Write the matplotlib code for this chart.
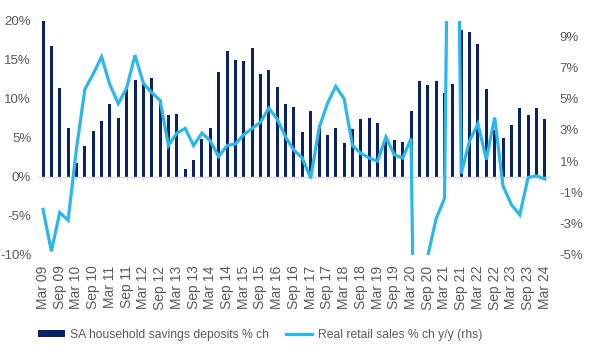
import matplotlib
matplotlib.use("Agg")
import matplotlib.pyplot as plt
from matplotlib.patches import Patch
from matplotlib.lines import Line2D

plt.rcParams['font.family'] = ['Liberation Sans', 'DejaVu Sans']

# Quarterly data, Mar 09 .. Mar 24 (61 quarters)
savings_deposits = [20.0, 16.8, 11.4, 6.2, 1.7, 4.0, 5.9, 7.1, 9.3, 7.6,
                    11.2, 12.4, 11.9, 12.7, 9.9, 7.9, 8.0, 1.0, 2.1, 4.9,
                    6.3, 13.5, 16.2, 15.0, 14.8, 16.5, 13.2, 13.7, 11.5, 9.4,
                    8.9, 5.75, 8.4, 6.6, 5.4, 6.3, 4.3, 6.1, 7.4, 7.5,
                    6.9, 5.0, 4.7, 4.5, 8.4, 12.3, 11.75, 12.3, 10.7, 11.9,
                    18.8, 18.6, 17.1, 11.2, 6.0, 5.0, 6.7, 8.8, 7.9, 8.8,
                    7.4]
retail_sales = [-2.1, -4.8, -2.3, -2.8, 1.8, 5.6, 6.6, 7.7, 5.9, 4.7,
                5.7, 7.8, 6.0, 5.4, 4.9, 2.0, 2.8, 3.1, 2.0, 2.8,
                2.3, 1.3, 2.0, 2.1, 2.7, 3.1, 3.5, 4.4, 3.7, 2.55,
                1.7, 1.2, -0.1, 3.1, 4.7, 5.8, 5.0, 2.0, 1.5, 1.2,
                1.0, 2.55, 1.4, 1.2, 2.45, -36.0, -5.1, -2.7, -1.4, 45.0,
                0.2, 2.3, 3.4, 1.1, 3.8, -0.6, -1.8, -2.45, -0.05, 0.05,
                -0.15]
tick_labels = ["Mar 09", "Sep 09", "Mar 10", "Sep 10", "Mar 11", "Sep 11",
               "Mar 12", "Sep 12", "Mar 13", "Sep 13", "Mar 14", "Sep 14",
               "Mar 15", "Sep 15", "Mar 16", "Sep 16", "Mar 17", "Sep 17",
               "Mar 18", "Sep 18", "Mar 19", "Sep 19", "Mar 20", "Sep 20",
               "Mar 21", "Sep 21", "Mar 22", "Sep 22", "Mar 23", "Sep 23",
               "Mar 24"]
left_ticks = [-10, -5, 0, 5, 10, 15, 20]
right_ticks = [-5, -3, -1, 1, 3, 5, 7, 9]
series_names = ["SA household savings deposits % ch",
                "Real retail sales % ch y/y (rhs)"]

bar_color = "#0B2263"
line_color = "#2AB7EE"
text_color = "#595959"
axis_color = "#D9D9D9"

fig = plt.figure(figsize=(5.91, 3.54), dpi=100)
ax = fig.add_axes([0.0657, 0.281, 0.8633, 0.6597])
x = list(range(len(savings_deposits)))
ax.bar(x, savings_deposits, width=0.36, color=bar_color, zorder=2)
ax.set_xlim(-0.5, len(x) - 0.5)
ax.set_ylim(-10, 20)
ax.set_yticks(left_ticks)
ax.set_yticklabels([f"{v}%" for v in left_ticks])
ax.tick_params(axis='y', length=0, pad=5.5, labelsize=9.5, labelcolor=text_color)
for s in ['top', 'right', 'left']:
    ax.spines[s].set_visible(False)
ax.spines['bottom'].set_position(('data', 0))
ax.spines['bottom'].set_color(axis_color)
ax.spines['bottom'].set_linewidth(1.0)
ax.set_xticks(list(range(0, len(x), 2)))
ax.set_xticklabels(tick_labels, rotation=90)
ax.tick_params(axis='x', length=3, color=axis_color, labelsize=10,
               labelcolor=text_color, pad=61)

ax2 = ax.twinx()
ax2.plot(x, retail_sales, color=line_color, lw=2.3, zorder=3,
         solid_joinstyle='miter')
ax2.set_ylim(-5, 10)
ax2.set_yticks(right_ticks)
ax2.set_yticklabels([f"{v}%" for v in right_ticks])
ax2.tick_params(axis='y', length=0, pad=7.5, labelsize=9.5, labelcolor=text_color)
for s in ax2.spines.values():
    s.set_visible(False)
ax2.set_xlim(-0.5, len(x) - 0.5)

handles = [Patch(facecolor=bar_color, edgecolor='none'),
           Line2D([0], [0], color=line_color, lw=2.3)]
fig.legend(handles, series_names, loc='center', ncol=2,
           bbox_to_anchor=(0.44, 0.054), frameon=False, fontsize=8.7,
           labelcolor=text_color, handlelength=2.2, handleheight=0.41,
           handletextpad=0.45, columnspacing=1.4)

fig.savefig("out.png", dpi=100)
